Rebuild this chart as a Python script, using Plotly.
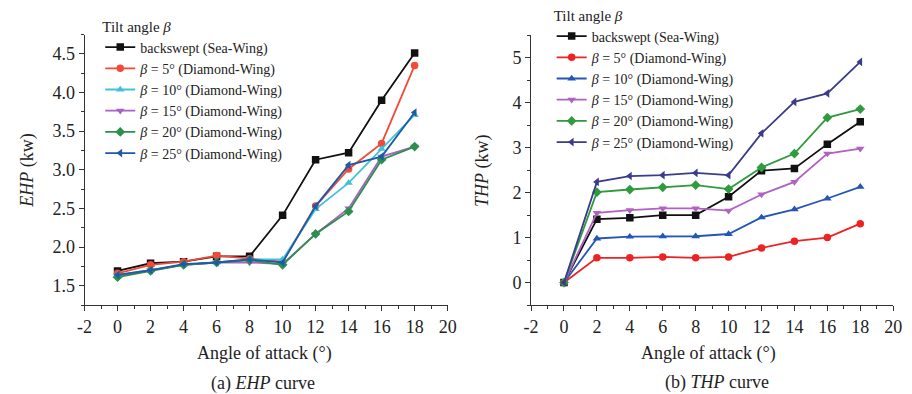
import plotly.graph_objects as go

# Angle of attack (deg)
aoa = [0, 2, 4, 6, 8, 10, 12, 14, 16, 18]

# x-axis tick positions and labels (plain hyphen for the negative tick)
x_tick_vals = [-2, 0, 2, 4, 6, 8, 10, 12, 14, 16, 18, 20]
x_tick_text = ["-2", "0", "2", "4", "6", "8", "10", "12", "14", "16", "18", "20"]

# Effective horsepower (kW)
ehp_backswept = [1.69, 1.79, 1.81, 1.88, 1.88, 2.41, 3.13, 3.22, 3.90, 4.51]
ehp_b5 = [1.66, 1.77, 1.81, 1.89, 1.85, 1.81, 2.53, 3.01, 3.34, 4.35]
ehp_b10 = [1.64, 1.70, 1.77, 1.80, 1.84, 1.84, 2.49, 2.83, 3.27, 3.71]
ehp_b15 = [1.63, 1.70, 1.77, 1.80, 1.80, 1.78, 2.17, 2.50, 3.17, 3.30]
ehp_b20 = [1.61, 1.69, 1.77, 1.80, 1.83, 1.77, 2.17, 2.46, 3.13, 3.30]
ehp_b25 = [1.64, 1.70, 1.78, 1.80, 1.84, 1.80, 2.53, 3.06, 3.17, 3.74]

# Thrust horsepower (kW)
thp_backswept = [0, 1.41, 1.44, 1.50, 1.50, 1.91, 2.49, 2.54, 3.08, 3.58]
thp_b5 = [0, 0.55, 0.55, 0.57, 0.55, 0.57, 0.77, 0.92, 1.00, 1.31]
thp_b10 = [0, 0.98, 1.02, 1.03, 1.03, 1.08, 1.45, 1.63, 1.87, 2.13]
thp_b15 = [0, 1.55, 1.61, 1.65, 1.65, 1.60, 1.96, 2.24, 2.87, 2.98]
thp_b20 = [0, 2.01, 2.07, 2.12, 2.17, 2.08, 2.56, 2.87, 3.67, 3.86]
thp_b25 = [0, 2.24, 2.37, 2.39, 2.44, 2.39, 3.32, 4.02, 4.21, 4.91]

series_names = [
    "backswept (Sea-Wing)",
    "<i>β</i> = 5° (Diamond-Wing)",
    "<i>β</i> = 10° (Diamond-Wing)",
    "<i>β</i> = 15° (Diamond-Wing)",
    "<i>β</i> = 20° (Diamond-Wing)",
    "<i>β</i> = 25° (Diamond-Wing)",
]
symbols = ["square", "circle", "triangle-up", "triangle-down", "diamond", "triangle-left"]
colors_ehp = ["#111111", "#f24a38", "#42c2d8", "#a862c4", "#2b8f4e", "#1f5aa6"]
colors_thp = ["#111111", "#ee2222", "#2456b8", "#b062c2", "#2f9a3e", "#3b3b8c"]

ehp_sets = [ehp_backswept, ehp_b5, ehp_b10, ehp_b15, ehp_b20, ehp_b25]
thp_sets = [thp_backswept, thp_b5, thp_b10, thp_b15, thp_b20, thp_b25]

FONT = "Times New Roman, Liberation Serif, serif"
W, H = 912, 394

fig = go.Figure()

for name, sym, col, ys in zip(series_names, symbols, colors_ehp, ehp_sets):
    fig.add_trace(go.Scatter(
        x=aoa, y=ys, name=name, mode="lines+markers",
        line=dict(color=col, width=1.8),
        marker=dict(symbol=sym, size=7.5, color=col),
        xaxis="x", yaxis="y", legend="legend",
    ))

for name, sym, col, ys in zip(series_names, symbols, colors_thp, thp_sets):
    fig.add_trace(go.Scatter(
        x=aoa, y=ys, name=name, mode="lines+markers",
        line=dict(color=col, width=1.8),
        marker=dict(symbol=sym, size=7.5, color=col),
        xaxis="x2", yaxis="y2", legend="legend2",
    ))


def px_x(p):
    return p / W


def px_y(p):
    return 1 - p / H


axis_common = dict(
    showline=True, linecolor="#333333", linewidth=1, mirror=False,
    showgrid=False, zeroline=False,
    ticks="outside", ticklen=5, tickwidth=1, tickcolor="#333333",
    tickfont=dict(family=FONT, size=18, color="#222222"),
)
x_ticks = dict(tickmode="array", tickvals=x_tick_vals, ticktext=x_tick_text,
               minor=dict(dtick=1, tick0=0, ticks="outside", ticklen=3, tickcolor="#333333"))

fig.update_layout(
    width=W, height=H,
    margin=dict(l=0, r=0, t=0, b=0),
    paper_bgcolor="white", plot_bgcolor="white",
    font=dict(family=FONT, color="#222222"),
    xaxis=dict(domain=[px_x(78), px_x(448)], range=[-2, 20],
               anchor="y", **x_ticks, **axis_common),
    yaxis=dict(domain=[px_y(305), px_y(34.5)], range=[1.25, 4.75], dtick=0.5, tick0=1.5,
               tickformat=".1f",
               minor=dict(dtick=0.25, ticks="outside", ticklen=3, tickcolor="#333333"),
               anchor="x", **axis_common),
    xaxis2=dict(domain=[px_x(533), px_x(902)], range=[-2, 20],
                anchor="y2", **x_ticks, **axis_common),
    yaxis2=dict(domain=[px_y(305), px_y(35.4)], range=[-0.5, 5.5], dtick=1, tick0=0,
                minor=dict(dtick=0.5, ticks="outside", ticklen=3, tickcolor="#333333"),
                anchor="x2", **axis_common),
    legend=dict(
        x=px_x(94), y=px_y(12), xanchor="left", yanchor="top",
        bgcolor="rgba(0,0,0,0)", borderwidth=0,
        font=dict(family=FONT, size=14, color="#222222"),
        title=dict(text="Tilt angle <i>β</i>", font=dict(family=FONT, size=15, color="#222222")),
        tracegroupgap=0,
    ),
    legend2=dict(
        x=px_x(554), y=px_y(1), xanchor="left", yanchor="top",
        bgcolor="rgba(0,0,0,0)", borderwidth=0,
        font=dict(family=FONT, size=14, color="#222222"),
        title=dict(text="Tilt angle <i>β</i>", font=dict(family=FONT, size=15, color="#222222")),
        tracegroupgap=0,
    ),
    showlegend=True,
)

text_font = dict(family=FONT, size=18, color="#222222")
annotations = [
    # x-axis titles
    dict(text="Angle of attack (°)", x=px_x(261), y=px_y(353)),
    dict(text="Angle of attack (°)", x=px_x(714), y=px_y(353)),
    # panel captions
    dict(text="(a) <i>EHP</i> curve", x=px_x(260), y=px_y(383)),
    dict(text="(b) <i>THP</i> curve", x=px_x(722), y=px_y(382)),
    # y-axis titles
    dict(text="<i>EHP</i> (kw)", x=px_x(19), y=px_y(170), textangle=-90),
    dict(text="<i>THP</i> (kw)", x=px_x(483), y=px_y(170), textangle=-90),
]
for a in annotations:
    fig.add_annotation(xref="paper", yref="paper", showarrow=False,
                       xanchor="center", yanchor="middle", font=text_font, **a)

fig.write_html("out.html")
